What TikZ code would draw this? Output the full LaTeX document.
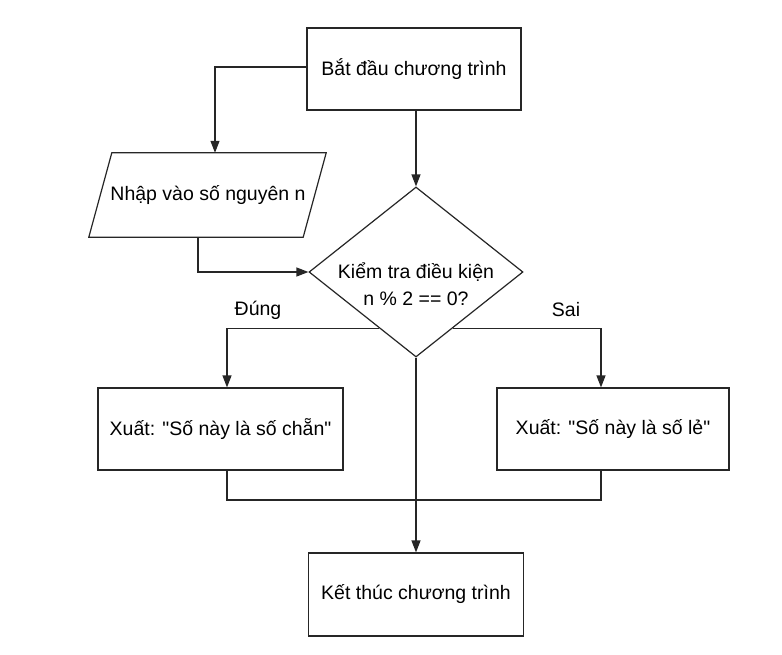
\documentclass[tikz,border=0pt]{standalone}
\usepackage{fontspec}
\setmainfont{Liberation Sans}
\usetikzlibrary{shapes.geometric,arrows.meta,calc}
\begin{document}
\begin{tikzpicture}[x=1pt,y=-1pt,
  every node/.style={font=\fontsize{19.5}{27}\selectfont, text=black},
  boxnode/.style={draw=black!85, line width=1.2pt, rectangle, inner sep=0pt},
  decnode/.style={draw=black!85, line width=1.2pt, diamond, inner sep=0pt, minimum width=214pt, minimum height=170pt},
  conn/.style={draw=black!85, line width=1.2pt},
  arr/.style={conn, -{Triangle[length=12pt,width=9pt]}},
  lbl/.style={inner sep=1pt}]
\useasboundingbox[fill=white] (0,0) rectangle (782,654);

\node[boxnode, minimum width=214pt, minimum height=82pt] (start) at (414,69) {Bắt đầu chương trình};
\node[inner sep=0pt, minimum width=214pt, minimum height=84pt] (inp) at (202,195) {};
\node (inptext) at (208,195) {Nhập vào số nguyên n};
\draw[conn] ($(inp.south west)+(-6,0)$) -- ($(inp.south east)+(-6,0)$) -- ($(inp.north east)+(17,0)$) -- ($(inp.north west)+(17,0)$) -- cycle;
\node[decnode] (dec) at (416,272) {};
\node[align=center] (dectext) at (416,284) {Kiểm tra điều kiện\\n \% 2 == 0?};
\node[boxnode, minimum width=245pt, minimum height=82pt] (even) at (220.5,429) {Xuất: \textquotedbl Số này là số chẵn\textquotedbl};
\node[boxnode, minimum width=232pt, minimum height=82pt] (odd) at (613,429) {Xuất: \textquotedbl Số này là số lẻ\textquotedbl};
\node[boxnode, minimum width=215pt, minimum height=83pt] (stop) at (416,594.5) {Kết thúc chương trình};

\coordinate (lx) at (227,0);
\coordinate (rx) at (601,0);
\coordinate (mg) at (0,500);
\coordinate (inx) at (215,0);
\coordinate (outx) at (198,0);

% start -> input
\draw[arr] (start.west |- 0,67) -- (inx |- 0,67) -- (inx |- inp.north);
% start -> decision
\draw[arr] (start.south -| dec.north) -- (dec.north);
% input -> decision
\draw[arr] (outx |- inp.south) |- (dec.west);
% branches
\coordinate (bl) at ($(dec.west)!0.66!(dec.south)$);
\coordinate (br) at ($(dec.east)!0.66!(dec.south)$);
\draw[arr] (bl) -| (lx |- even.north);
\draw[arr] (br) -| (rx |- odd.north);
\node[lbl] (yes) at (258,310) {Đúng};
\node[lbl] (no) at (566,310) {Sai};
% decision -> stop
\draw[arr] (dec.south) -- (stop.north);
% merge
\draw[conn] (lx |- even.south) -- (lx |- mg) -- (rx |- mg) -- (rx |- odd.south);
\end{tikzpicture}
\end{document}
